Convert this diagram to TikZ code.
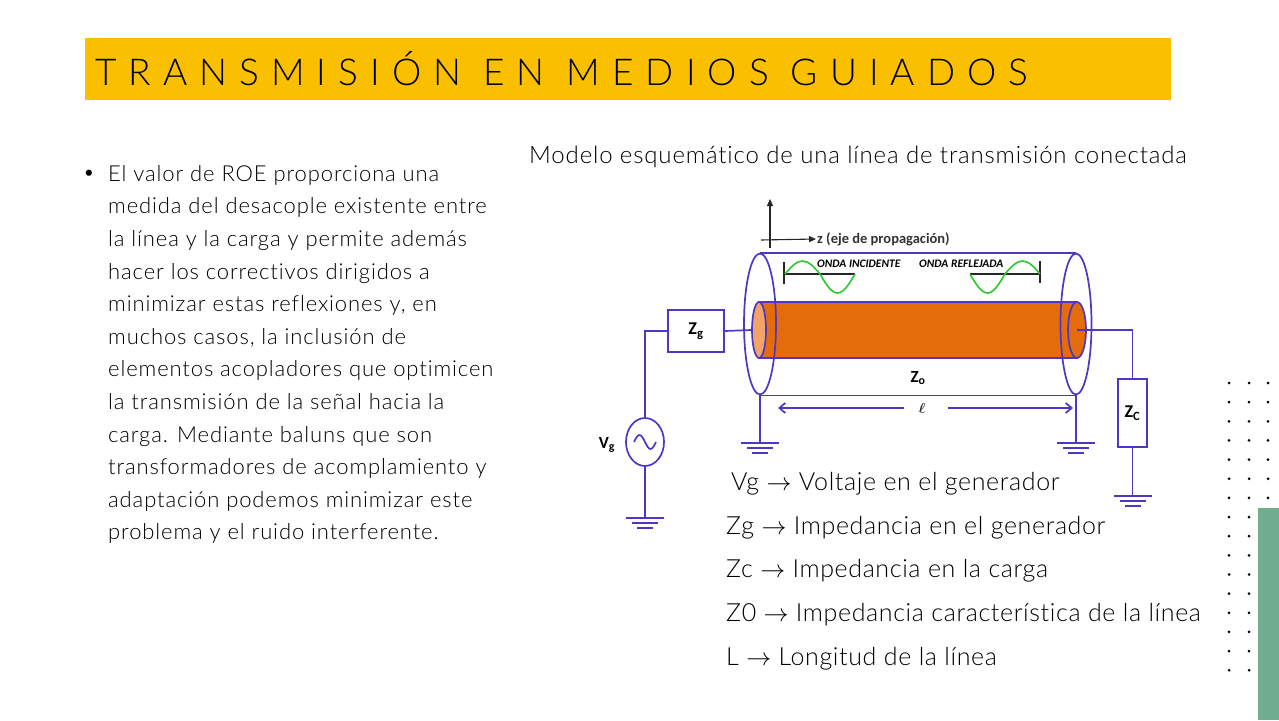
\documentclass[tikz,border=0pt]{standalone}
\usepackage{xcolor}
\usepackage{amsmath}
\usepackage{fontspec}
\setmainfont{Lato}
\newfontfamily\lightfont{Lato Light}[Ligatures=NoCommon]
\newfontfamily\bodyfont{Lato Light}[LetterSpace=4, Ligatures=NoCommon]
\newfontfamily\legendfont{Lato Light}[LetterSpace=2.5, Ligatures=NoCommon]
\newfontfamily\captionfont{Lato Light}[LetterSpace=3.5, Ligatures=NoCommon]
\newfontfamily\titlefont{Lato Light}[LetterSpace=32.5]
\newfontfamily\calibri{Carlito}
\usetikzlibrary{shapes.geometric, arrows.meta, positioning}

\definecolor{banner}{RGB}{250,192,0}
\definecolor{lineblue}{RGB}{76,56,196}
\definecolor{coreorange}{RGB}{228,108,10}
\definecolor{faceorange}{RGB}{242,164,104}
\definecolor{wavegreen}{RGB}{46,200,46}
\definecolor{sidegreen}{RGB}{112,172,142}

\begin{document}
\begin{tikzpicture}[x=1pt, y=-1pt,
    wire/.style={draw=lineblue, line width=1.7pt},
    imp/.style={wire, fill=white, inner sep=0pt, font=\calibri\bfseries\fontsize{18}{18}\selectfont},
    lbl/.style={inner sep=1pt, font=\calibri\bfseries\fontsize{17}{17}\selectfont},
    onda/.style={inner sep=0pt, font=\calibri\bfseries\itshape\fontsize{11.5}{11.5}\selectfont},
    face/.style={ellipse, wire, inner sep=0pt},
    wave/.style={draw=wavegreen, line width=1.6pt},
    ref/.style={draw=black!85, line width=1.1pt},
    gnd/.pic={\draw[wire] (-19,0) -- (19,0) (-13,5) -- (13,5) (-8,10) -- (8,10);}]
  \useasboundingbox (0,0) rectangle (1279,720);
  \fill[white] (0,0) rectangle (1279,720);

  \fill[banner] (85,38) rectangle (1171,100);
  \node[anchor=base west, inner sep=0pt, font=\titlefont\fontsize{37}{37}\selectfont] (titulo) at (95,85) {TRANSMISIÓN EN MEDIOS GUIADOS};

  \node[inner sep=0pt, font=\lightfont\fontsize{21}{21}\selectfont] (vineta) at (89,175) {•};
  \node[anchor=north west, align=left, inner sep=0pt, font=\bodyfont\fontsize{22}{32.6}\selectfont] (cuerpo) at (108,165)
    {El valor de ROE proporciona una\\ medida del desacople existente entre\\ la línea y la carga y permite además\\ hacer los correctivos dirigidos a\\ minimizar estas reflexiones y, en\\ muchos casos, la inclusión de\\ elementos acopladores que optimicen\\ la transmisión de la señal hacia la\\ carga. Mediante baluns que son\\ transformadores de acomplamiento y\\ adaptación podemos minimizar este\\ problema y el ruido interferente.};

  \node[anchor=base west, inner sep=0pt, font=\captionfont\fontsize{24}{24}\selectfont] (modelo) at (529,163) {Modelo esquemático de una línea de transmisión conectada};

  % ejes
  \coordinate (axB) at (770,248);
  \coordinate (axT) at (770,199);
  \coordinate (axL) at (761,240);
  \node[anchor=west, inner sep=1pt, font=\calibri\bfseries\fontsize{14.5}{14.5}\selectfont, text=black!80] (zeje) at (816,239) {z (eje de propagación)};
  \draw[black!85, line width=1.1pt, -{Triangle[length=7pt, width=6pt]}] (axB) -- (axT);
  \draw[black!85, line width=1.1pt, -{Triangle[length=7pt, width=6pt]}] (axL) -- (zeje.west);

  % linea coaxial
  \path[wire, fill=coreorange] (759,302) rectangle (1077,358);
  \node[face, fill=coreorange, minimum width=18, minimum height=56] (inR) at (1077,330) {};
  \node[face, fill=faceorange, minimum width=14, minimum height=56] (inL) at (759,330) {};
  \node[face, minimum width=32, minimum height=141] (outL) at (760,324) {};
  \node[face, minimum width=31, minimum height=141] (outR) at (1076,324) {};
  \draw[wire] (outL.north) -- (outR.north) (outL.south) -- (outR.south);

  % ondas
  \draw[ref] (784,262) -- (784,284) (784,274) -- (855,274);
  \draw[wave] (785,274) sin ++(17.5,-13) cos ++(17.5,13) sin ++(17.5,19) cos ++(17.5,-19);
  \draw[ref] (1040,261) -- (1040,283) (970,274) -- (1040,274);
  \draw[wave] (970,274) sin ++(17.5,19) cos ++(17.5,-19) sin ++(17.5,-13) cos ++(17.5,13);
  \node[onda, anchor=west] (incidente) at (817,264) {ONDA INCIDENTE};
  \node[onda, anchor=west] (reflejada) at (919,264) {ONDA REFLEJADA};

  \node[lbl] (zo) at (918,378) {Z\textsubscript{o}};
  \node[inner sep=0pt, text=black!80, font=\fontsize{15}{15}\selectfont] (ell) at (922,408) {$\boldsymbol{\ell}$};
  \coordinate (lenL) at (778,408);
  \coordinate (lenR) at (1073,408);
  \draw[wire, -{Straight Barb[length=6pt, width=10pt]}] ([xshift=-14]ell.west) -- (lenL);
  \draw[wire, -{Straight Barb[length=6pt, width=10pt]}] ([xshift=22]ell.east) -- (lenR);

  % circuito
  \node[imp, rectangle, minimum width=56, minimum height=42] (Zg) at (696,331) {Z\textsubscript{g}};
  \node[imp, rectangle, minimum width=29, minimum height=68] (Zc) at (1132.5,413) {Z\textsubscript{C}};
  \node[ellipse, wire, minimum width=38, minimum height=48, inner sep=0pt] (src) at (645,442) {};
  \draw[wire] ([xshift=-11]src.center) sin ++(5.5,-7) cos ++(5.5,7) sin ++(5.5,7) cos ++(5.5,-7);
  \node[lbl] (Vg) at (607,445) {V\textsubscript{g}};

  \coordinate (gV) at (645,518);
  \coordinate (gL) at (760,443);
  \coordinate (gR) at (1076,443);
  \coordinate (gC) at (1132.5,496);
  \draw[wire] (Zg.east) -- (inL.west);
  \draw[wire] (Zg.west) -| (src.north);
  \draw[wire] (src.south) -- (gV);
  \draw[wire] (outL.south) -- (gL);
  \draw[wire] (outR.south) -- (gR);
  \draw[wire] (inR.center) -| (Zc.north);
  \draw[wire] (Zc.south) -- (gC);
  \foreach \g in {gV, gL, gR, gC}
    \pic at (\g) {gnd};

  \node[anchor=north west, align=left, inner sep=0pt, font=\legendfont\fontsize{25}{43.7}\selectfont] (leyenda) at (726,472)
    {\hspace{5pt}Vg $\rightarrow$ Voltaje en el generador\\ Zg $\rightarrow$ Impedancia en el generador\\ Zc $\rightarrow$ Impedancia en la carga\\ Z0 $\rightarrow$ Impedancia característica de la línea\\ L $\rightarrow$ Longitud de la línea};

  \foreach \i in {0,...,15}
    \foreach \x in {1229,1249,1268}
      \fill[black] ({\x},{383+19.15*\i}) circle (1.5);
  \fill[sidegreen] (1258,508) rectangle (1279,720);
\end{tikzpicture}
\end{document}
